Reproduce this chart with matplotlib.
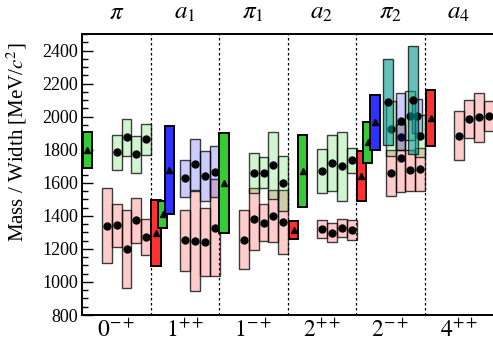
import matplotlib
matplotlib.use("Agg")
import matplotlib.pyplot as plt
from matplotlib.patches import Rectangle
from matplotlib.ticker import MultipleLocator

plt.rcParams['font.family'] = ['Liberation Serif', 'DejaVu Serif']
plt.rcParams['mathtext.fontset'] = 'stix'

# sector names (top) and J^PC (bottom)
top_labels = [r'$\pi$', r'$a_1$', r'$\pi_1$', r'$a_2$', r'$\pi_2$', r'$a_4$']
jpc_labels = [r'$0^{-+}$', r'$1^{++}$', r'$1^{-+}$', r'$2^{++}$', r'$2^{-+}$', r'$4^{++}$']

# light red boxes: sector, column slot, mass, width  [MeV/c^2]
pink_sector = [0, 0, 0, 0, 0, 1, 1, 1, 1, 2, 2, 2, 2, 2, 3, 3, 3, 3, 4, 4, 4, 4, 5, 5, 5, 5]
pink_slot = [2, 3, 4, 5, 6, 3, 4, 5, 6, 2, 3, 4, 5, 6, 3, 4, 5, 6, 3, 4, 5, 6, 3, 4, 5, 6]
pink_mass = [1340, 1342, 1198, 1372, 1272, 1251, 1248, 1241, 1328,
             1255, 1381, 1358, 1399, 1362, 1321, 1297, 1325, 1315,
             1658, 1749, 1675, 1683, 1885, 1985, 1995, 2004]
pink_width = [454, 260, 472, 268, 218, 370, 606, 410, 584,
              357, 378, 224, 314, 390, 107, 115, 111, 119,
              280, 412, 244, 260, 293, 229, 299, 176]

# light green boxes
lgreen_sector = [0, 0, 0, 0, 2, 2, 2, 2, 3, 3, 3, 3, 4, 4, 4, 4]
lgreen_slot = [3, 4, 5, 6, 3, 4, 5, 6, 3, 4, 5, 6, 3, 4, 5, 6]
lgreen_mass = [1785, 1874, 1772, 1863, 1658, 1661, 1707, 1597,
               1672, 1721, 1701, 1737, 1928, 1877, 2006, 1882]
lgreen_width = [210, 222, 222, 190, 242, 187, 406, 334,
                270, 337, 418, 152, 328, 152, 294, 254]

# light blue boxes
lblue_sector = [1, 1, 1, 1, 4, 4]
lblue_slot = [3, 4, 5, 6, 4, 5.64]
lblue_mass = [1627, 1712, 1640, 1668, 1972, 2004]
lblue_width = [226, 310, 299, 304, 345, 202]

# teal boxes
teal_sector = [4, 4]
teal_slot = [2.77, 5.24]
teal_mass = [2090, 2100]
teal_width = [522, 655]

# solid boxes (triangles): sector, offset inside sector, mass, width
red_sector = [1, 3, 4, 5]
red_off = [0.01, 0.02, 0.01, 0.02]
red_mass = [1295, 1312, 1641, 1990]
red_width = [402, 109, 307, 337]

green_sector = [0, 1, 2, 3, 4]
green_off = [0.01, 0.108, 0.007, 0.15, 0.10]
green_mass = [1800, 1409, 1599, 1671, 1845]
green_width = [218, 162, 602, 439, 246]

blue_sector = [1, 4]
blue_off = [0.205, 0.21]
blue_mass = [1678, 1966]
blue_width = [536, 331]

col = 0.1445   # column width inside a sector
bw = 0.138     # width of the solid boxes

fig = plt.figure(figsize=(4.93, 3.42), dpi=100)
ax = fig.add_axes([82/493, 27/342, 411/493, 281/342])


def pale_boxes(sector, slot, mass, width, face, z):
    for s, k, m, w in zip(sector, slot, mass, width):
        x0 = s + k * col
        ax.add_patch(Rectangle((x0, m - w/2), col, w, facecolor=face,
                               edgecolor=(0, 0, 0, 0.75), lw=1.0, zorder=z))
        ax.plot(x0 + col/2, m, 'o', color='black', ms=5, zorder=z + 0.5)


def solid_boxes(sector, off, mass, width, face, z):
    for s, o, m, w in zip(sector, off, mass, width):
        x0 = s + o
        ax.add_patch(Rectangle((x0, m - w/2), bw, w, facecolor=face,
                               edgecolor='black', lw=1.4, zorder=z))
        ax.plot(x0 + bw/2, m, '^', color='black', ms=5, zorder=z + 0.5)


pale_boxes(pink_sector, pink_slot, pink_mass, pink_width, (1, 0, 0, 0.2), 2)
pale_boxes(lgreen_sector, lgreen_slot, lgreen_mass, lgreen_width, (0.1, 0.8, 0.1, 0.2), 3)
pale_boxes(lblue_sector, lblue_slot, lblue_mass, lblue_width, (0, 0, 1, 0.2), 4)
pale_boxes(teal_sector, teal_slot, teal_mass, teal_width, (0, 0.6, 0.55, 0.6), 5)
solid_boxes(red_sector, red_off, red_mass, red_width, '#ff3030', 6)
solid_boxes(green_sector, green_off, green_mass, green_width, '#33cc33', 7)
solid_boxes(blue_sector, blue_off, blue_mass, blue_width, '#3030ff', 8)

for xv in range(1, 6):
    ax.axvline(xv, color='black', lw=0.9, ls=(0, (2, 2)), zorder=1)

ax.set_xlim(0, 6)
ax.set_ylim(800, 2500)
ax.yaxis.set_major_locator(MultipleLocator(200))
ax.yaxis.set_minor_locator(MultipleLocator(50))
ax.tick_params(axis='y', which='major', direction='in', length=8, width=1, labelsize=13, pad=3)
ax.tick_params(axis='y', which='minor', direction='in', length=4.5, width=1)
ax.set_xticks([i + 0.5 for i in range(6)])
ax.set_xticklabels(jpc_labels, fontsize=17)
ax.tick_params(axis='x', length=0, pad=3)
for i, lab in enumerate(top_labels):
    ax.text(i + 0.5, 1.055, lab, transform=ax.get_xaxis_transform(),
            ha='center', va='baseline', fontsize=18)

for side in ['left', 'top', 'bottom']:
    ax.spines[side].set_linewidth(1.4)
ax.spines['right'].set_visible(False)

ax.set_ylabel(r'Mass / Width [MeV/$c^2$]', fontsize=15)
ax.yaxis.set_label_coords(-0.128, 0.616)

fig.savefig('out.png', dpi=100)
